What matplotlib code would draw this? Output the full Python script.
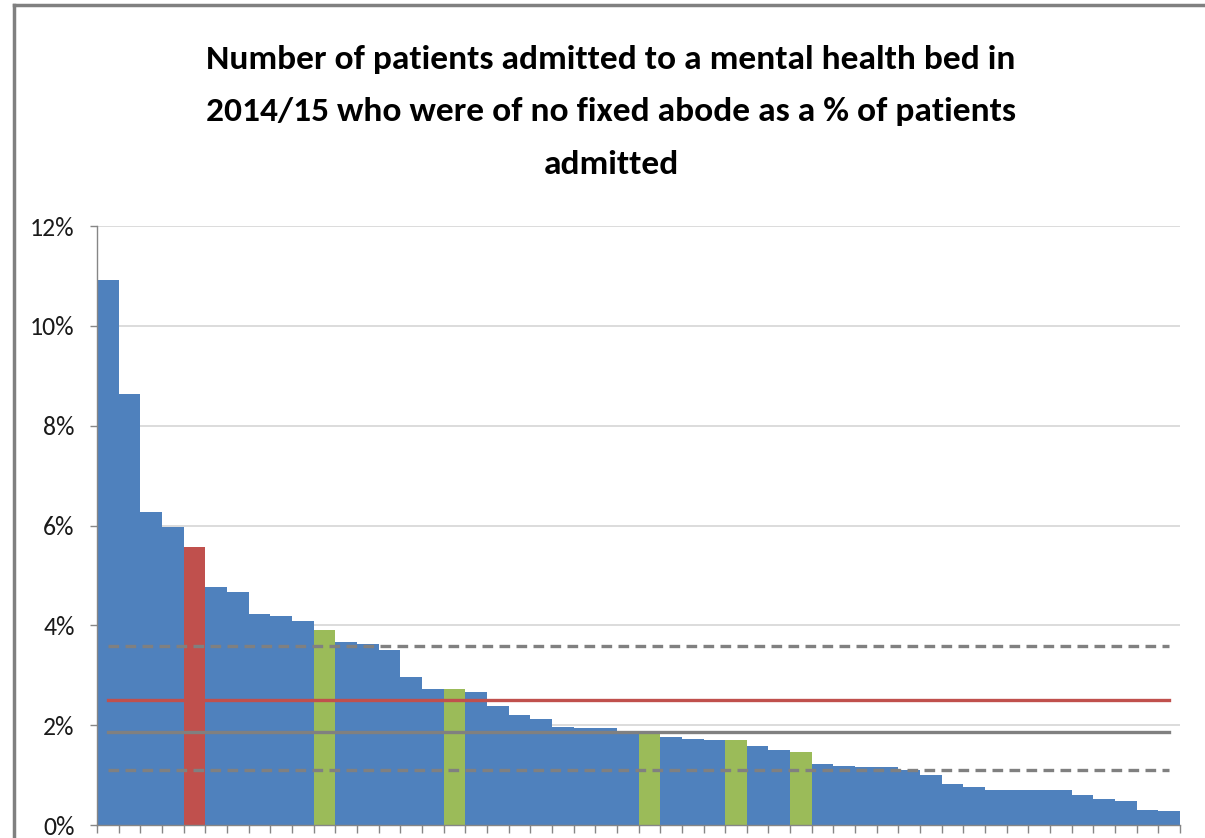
import matplotlib
matplotlib.use("Agg")
import matplotlib.pyplot as plt
from matplotlib.lines import Line2D

# Share of admitted patients with no fixed abode, one bar per provider (sorted)
values = [10.91, 8.64, 6.28, 5.98, 5.56, 4.76, 4.67, 4.22, 4.19, 4.09,
          3.91, 3.67, 3.62, 3.50, 2.96, 2.72, 2.72, 2.66, 2.39, 2.21,
          2.12, 1.97, 1.94, 1.94, 1.88, 1.83, 1.76, 1.73, 1.70, 1.70,
          1.58, 1.50, 1.46, 1.22, 1.19, 1.17, 1.17, 1.11, 1.00, 0.83,
          0.76, 0.70, 0.70, 0.70, 0.70, 0.61, 0.53, 0.49, 0.31, 0.29]
# bar highlight groups: 'b' = other, 'r' = selected provider, 'g' = comparators
groups = ['b'] * 50
groups[4] = 'r'
for i in [10, 16, 25, 29, 32]:
    groups[i] = 'g'

national_avg = 2.51
median = 1.855
upper_q = 3.59
lower_q = 1.105

yticks = [0, 2, 4, 6, 8, 10, 12]
ytick_labels = ["0%", "2%", "4%", "6%", "8%", "10%", "12%"]
title = ("Number of patients admitted to a mental health bed in\n"
         "2014/15 who were of no fixed abode as a % of patients\n"
         "admitted")

colors = {'b': '#4F81BD', 'r': '#C0504D', 'g': '#9BBB59'}
font = ['Carlito', 'DejaVu Sans']

fig = plt.figure(figsize=(12.05, 8.38), dpi=100)
ax = fig.add_axes([0.0805, 0.0155, 0.8988, 0.7148])

x = list(range(len(values)))
ax.bar(x, values, width=1.0, color=[colors[g] for g in groups],
       edgecolor='none', zorder=2)

n = len(values)
dash = (0, (3.2, 1.9))
ax.plot([0, n - 1], [upper_q, upper_q], color='#808080', lw=2.4, ls=dash, zorder=3)
ax.plot([0, n - 1], [lower_q, lower_q], color='#808080', lw=2.4, ls=dash, zorder=3)
ax.plot([0, n - 1], [national_avg, national_avg], color='#C0504D', lw=2.4, zorder=3)
ax.plot([0, n - 1], [median, median], color='#808080', lw=2.4, zorder=3)

ax.set_xlim(-0.5, n - 0.5)
ax.set_ylim(0, 12)
ax.set_yticks(yticks)
ax.set_yticklabels(ytick_labels, fontsize=18.5, family=font)
ax.yaxis.grid(True, color='#D9D9D9', lw=1.3, zorder=0)
ax.set_axisbelow(True)

ax.set_xticks([i - 0.5 for i in range(n + 1)])
ax.set_xticklabels([])
ax.tick_params(axis='x', direction='out', length=6, color='#868686', width=1)
ax.tick_params(axis='y', direction='out', length=5, color='#868686', width=1,
               pad=11, labelcolor='#1a1a1a')

for side in ['top', 'right']:
    ax.spines[side].set_visible(False)
for side in ['left', 'bottom']:
    ax.spines[side].set_color('#868686')
    ax.spines[side].set_linewidth(1)

fig.text(0.507, 1 - 112 / 838, title, ha='center', va='center', fontsize=25.5,
         fontweight='bold', family=font, linespacing=1.97)

# chart area border (only top and left edges are inside the picture)
fig.add_artist(Line2D([0.0116, 1.0], [0.994, 0.994], color='#808080', lw=2.5,
                      transform=fig.transFigure))
fig.add_artist(Line2D([0.0116, 0.0116], [0.0, 0.994], color='#808080', lw=2.5,
                      transform=fig.transFigure))

fig.savefig("out.png", dpi=100)
